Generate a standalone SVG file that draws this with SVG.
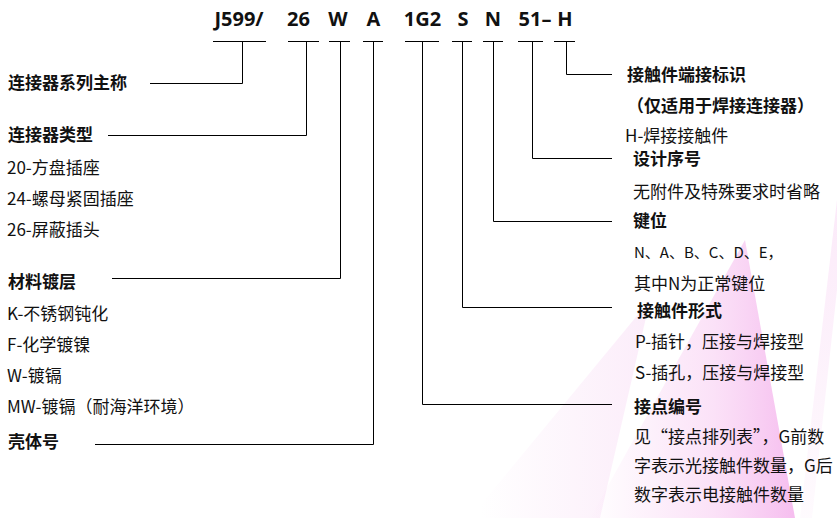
<svg xmlns="http://www.w3.org/2000/svg" width="837" height="518" viewBox="0 0 837 518">
<style>
.code{font-family:"Open Sans","DejaVu Sans",sans-serif;font-weight:700;font-size:20px;fill:#111;text-anchor:middle}
.t{font-family:"Noto Sans CJK SC","Noto Sans",sans-serif;font-size:17px;fill:#111}
.b{font-weight:700}
.ln{fill:none;stroke:#000;stroke-width:1}
</style>
<defs>
<linearGradient id="pk" x1="590" y1="0" x2="795" y2="0" gradientUnits="userSpaceOnUse">
<stop offset="0" stop-color="#f7c4f0" stop-opacity="0"/>
<stop offset="0.6" stop-color="#f7c4f0" stop-opacity="0.5"/>
<stop offset="1" stop-color="#f4b2ec" stop-opacity="0.85"/>
</linearGradient>
<linearGradient id="pk2" x1="0" y1="200" x2="0" y2="518" gradientUnits="userSpaceOnUse">
<stop offset="0" stop-color="#f7d0f2" stop-opacity="0.45"/>
<stop offset="1" stop-color="#f7d0f2" stop-opacity="0.1"/>
</linearGradient>
<linearGradient id="pk3" x1="480" y1="0" x2="650" y2="0" gradientUnits="userSpaceOnUse">
<stop offset="0" stop-color="#f9e0f6" stop-opacity="0"/>
<stop offset="1" stop-color="#f9e0f6" stop-opacity="0.6"/>
</linearGradient>
</defs>
<g id="background">
<polygon points="650,300 600,518 470,518" fill="url(#pk3)"/>
<polygon points="837,200 837,290 812,518 800,518" fill="url(#pk2)"/>
<polygon points="745,240 795,518 590,518" fill="url(#pk)"/>
</g>
<g id="connectors">
<line class="ln" x1="213" y1="41.5" x2="266" y2="41.5"/>
<polyline class="ln" points="242.5,41.5 242.5,83.5 150,83.5"/>
<line class="ln" x1="288" y1="41.5" x2="319" y2="41.5"/>
<polyline class="ln" points="306.5,41.5 306.5,135.5 108,135.5"/>
<line class="ln" x1="329" y1="41.5" x2="350" y2="41.5"/>
<polyline class="ln" points="340.5,41.5 340.5,278.5 112,278.5"/>
<line class="ln" x1="363" y1="41.5" x2="383" y2="41.5"/>
<polyline class="ln" points="373.5,41.5 373.5,444.5 95,444.5"/>
<line class="ln" x1="405" y1="41.5" x2="439" y2="41.5"/>
<polyline class="ln" points="422.5,41.5 422.5,404.5 612,404.5"/>
<line class="ln" x1="452" y1="41.5" x2="472" y2="41.5"/>
<polyline class="ln" points="462.5,41.5 462.5,307.5 612,307.5"/>
<line class="ln" x1="483" y1="41.5" x2="503" y2="41.5"/>
<polyline class="ln" points="493.5,41.5 493.5,221.5 612,221.5"/>
<line class="ln" x1="518" y1="41.5" x2="543" y2="41.5"/>
<polyline class="ln" points="532.5,41.5 532.5,158.5 612,158.5"/>
<line class="ln" x1="554" y1="41.5" x2="575" y2="41.5"/>
<polyline class="ln" points="566.5,41.5 566.5,74.5 612,74.5"/>
</g>
<g id="code">
<text class="code" x="239" y="26">J599/</text>
<text class="code" x="298.5" y="26">26</text>
<text class="code" x="338" y="26">W</text>
<text class="code" x="373.5" y="26">A</text>
<text class="code" x="422.5" y="26">1G2</text>
<text class="code" x="463" y="26">S</text>
<text class="code" x="493" y="26">N</text>
<text class="code" x="535" y="26">51–</text>
<text class="code" x="565" y="26">H</text>
</g>
<g id="series"><text class="t b" x="8" y="89">连接器系列主称</text></g>
<g id="type">
<text class="t b" x="8" y="141">连接器类型</text>
<text class="t" x="7" y="174">20-方盘插座</text>
<text class="t" x="7" y="205">24-螺母紧固插座</text>
<text class="t" x="7" y="236">26-屏蔽插头</text>
</g>
<g id="plating">
<text class="t b" x="8" y="288">材料镀层</text>
<text class="t" x="7" y="320">K-不锈钢钝化</text>
<text class="t" x="7" y="351">F-化学镀镍</text>
<text class="t" x="7" y="382">W-镀镉</text>
<text class="t" x="7" y="413">MW-镀镉（耐海洋环境）</text>
</g>
<g id="shell"><text class="t b" x="8" y="448">壳体号</text></g>
<g id="termination">
<text class="t b" x="627" y="81">接触件端接标识</text>
<text class="t b" x="627" y="112">（仅适用于焊接连接器）</text>
<text class="t" x="625" y="142">H-焊接接触件</text>
</g>
<g id="design">
<text class="t b" x="633" y="165">设计序号</text>
<text class="t" x="633" y="198">无附件及特殊要求时省略</text>
</g>
<g id="key">
<text class="t b" x="633" y="227">键位</text>
<text class="t" x="634" y="258" style="font-size:15px">N、A、B、C、D、E，</text>
<text class="t" x="634" y="290">其中N为正常键位</text>
</g>
<g id="contact-form">
<text class="t b" x="637" y="317">接触件形式</text>
<text class="t" x="635" y="348">P-插针，压接与焊接型</text>
<text class="t" x="635" y="379">S-插孔，压接与焊接型</text>
</g>
<g id="contact-number">
<text class="t b" x="634" y="413">接点编号</text>
<text class="t" x="634" y="443">见“接点排列表”，G前数</text>
<text class="t" x="634" y="472">字表示光接触件数量，G后</text>
<text class="t" x="634" y="501">数字表示电接触件数量</text>
</g>
</svg>
